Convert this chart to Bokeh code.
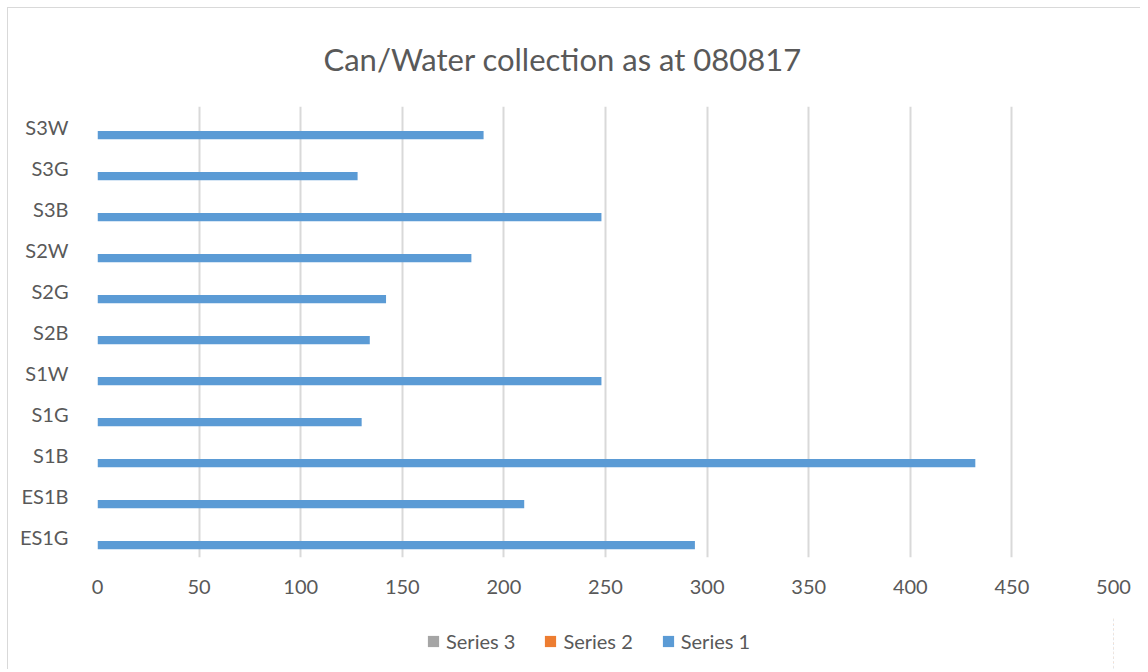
from bokeh.plotting import figure
from bokeh.layouts import column
from bokeh.models import ColumnDataSource, FactorRange, Range1d, FixedTicker, Legend, LegendItem
from bokeh.transform import dodge
from bokeh.embed import file_html
from bokeh.resources import INLINE

categories = ["ES1G", "ES1B", "S1B", "S1G", "S1W", "S2B", "S2G", "S2W", "S3B", "S3G", "S3W"]
series1 = [294, 210, 432, 130, 248, 134, 142, 184, 248, 128, 190]
series2 = [0, 0, 0, 0, 0, 0, 0, 0, 0, 0, 0]
series3 = [0, 0, 0, 0, 0, 0, 0, 0, 0, 0, 0]
series_names = ["Series 1", "Series 2", "Series 3"]
series_fields = ["s1", "s2", "s3"]
series_colors = ["#5B9BD5", "#ED7D31", "#A5A5A5"]
series_offsets = [-0.2, 0.0, 0.2]
x_ticks = [0, 50, 100, 150, 200, 250, 300, 350, 400, 450, 500]
title_text = "Can/Water collection as at 080817"

src = ColumnDataSource(dict(cat=categories, s1=series1, s2=series2, s3=series3))

FONT = "Lato"
TXT = "#595959"

p = figure(frame_width=1016, frame_height=451, output_backend="svg", toolbar_location=None,
           y_range=FactorRange(factors=categories), x_range=Range1d(0, 500),
           min_border_left=89, min_border_right=27, min_border_top=98, min_border_bottom=60,
           title=title_text)
p.outline_line_color = None
p.background_fill_color = "white"
p.border_fill_color = "white"

p.title.text_font = FONT
p.title.text_font_size = "31px"
p.title.text_font_style = "normal"
p.title.text_color = TXT
p.title.align = "left"
p.title.offset = 226
p.title.standoff = 58

for f, c, o in zip(series_fields, series_colors, series_offsets):
    p.hbar(y=dodge("cat", o, range=p.y_range), right=f, left=0, height=0.2,
           source=src, fill_color=c, line_color=None)

p.xaxis.ticker = FixedTicker(ticks=x_ticks)
p.xaxis.axis_line_color = None
p.xaxis.major_tick_line_color = None
p.xaxis.minor_tick_line_color = None
p.xaxis.major_label_text_font = FONT
p.xaxis.major_label_text_font_size = "20px"
p.xaxis.major_label_text_color = TXT
p.xaxis.major_label_standoff = 16

p.yaxis.axis_line_color = None
p.yaxis.major_tick_line_color = None
p.yaxis.minor_tick_line_color = None
p.yaxis.major_label_text_font = FONT
p.yaxis.major_label_text_font_size = "20px"
p.yaxis.major_label_text_color = TXT
p.yaxis.major_label_standoff = 23

p.xgrid.grid_line_color = "#d9d9d9"
p.xgrid.grid_line_width = 2
p.ygrid.grid_line_color = None

# legend strip below the chart (its bars lie outside its visible x range)
leg = figure(width=1132, height=52, output_backend="svg", toolbar_location=None,
             x_range=Range1d(-2, -1), y_range=FactorRange(factors=categories),
             x_axis_type=None, y_axis_type=None,
             min_border_left=0, min_border_right=0, min_border_top=0, min_border_bottom=0)
leg.outline_line_color = None
leg.xgrid.visible = False
leg.ygrid.visible = False
items = []
for name, f, c, o in zip(series_names, series_fields, series_colors, series_offsets):
    r = leg.hbar(y=dodge("cat", o, range=leg.y_range), right=f, left=0, height=0.2,
                 source=src, fill_color=c, line_color=None)
    items.append(LegendItem(label=name, renderers=[r]))
items.reverse()
legend = Legend(items=items, orientation="horizontal", location=(329, 16),
                glyph_width=14, glyph_height=14, label_standoff=6, spacing=28,
                label_text_font=FONT, label_text_font_size="20px", label_text_color=TXT,
                border_line_color=None, background_fill_alpha=0, padding=0, margin=0)
leg.add_layout(legend)

layout = column(p, leg, spacing=0,
                styles={"margin-left": "7px", "margin-top": "7px",
                        "border-left": "1px solid #d9d9d9", "border-top": "1px solid #d9d9d9"})

open("out.html", "w").write(file_html(layout, INLINE))
